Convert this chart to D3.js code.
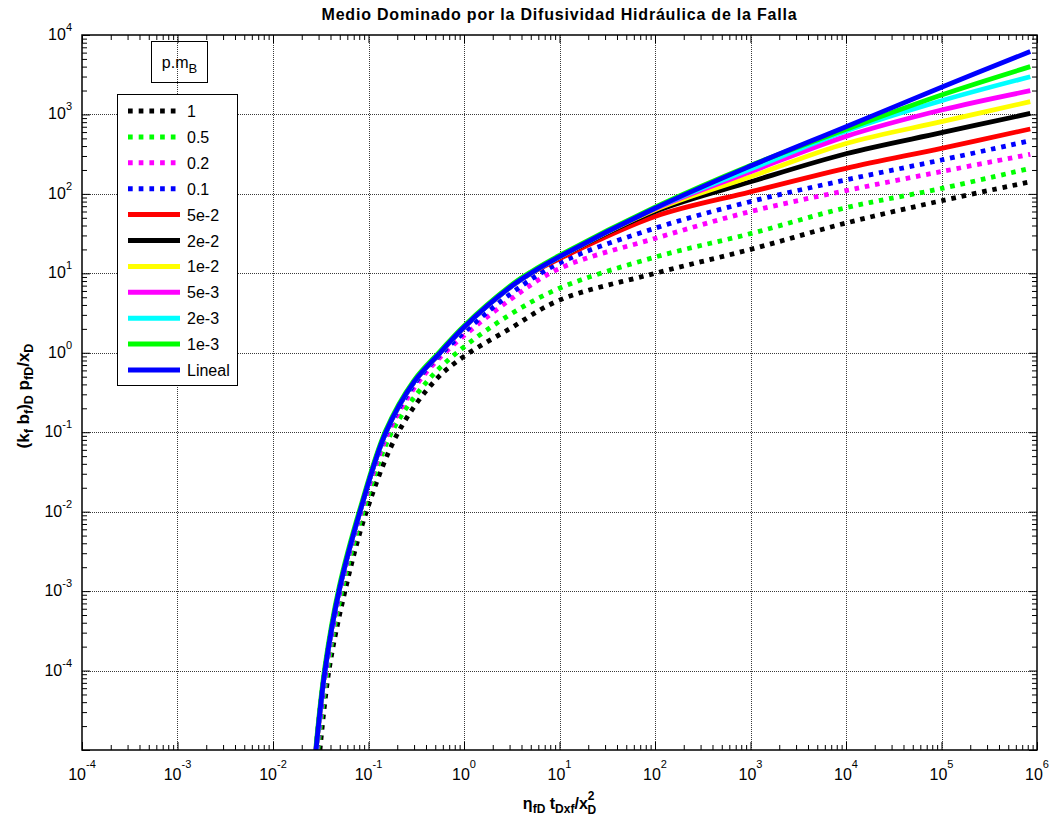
<!DOCTYPE html>
<html><head><meta charset="utf-8">
<script src="https://cdn.jsdelivr.net/npm/d3@7"></script>
<style>
body{margin:0;background:#fff}
svg{display:block;font-family:"Liberation Sans",Arial,Helvetica,sans-serif}
</style>
</head><body>
<svg id="chart" width="1053" height="820"></svg>
<script>
// ---------- data ----------
const xExponents = [-4,-3,-2,-1,0,1,2,3,4,5,6];
const yExponents = [-4,-3,-2,-1,0,1,2,3,4];

// dotted series: own early arrival times
const t_1   = [0.031,0.0385,0.0567,0.095,0.205,0.5,1.0,3,10,100,1e3,1e4,1e5,8.5e5];
const p_1   = [1e-5,1e-4,1e-3,1e-2,0.1,0.45,0.9,2.0,4.6,10,20,43,82,142];
const t_05  = [0.0295,0.037,0.0525,0.088,0.175,0.4,0.84,3,10,100,1e3,1e4,1e5,8.5e5];
const p_05  = [1e-5,1e-4,1e-3,1e-2,0.1,0.42,1,3.0,6.5,16,31.6,67,117,210];
const t_02  = [0.0288,0.036,0.0505,0.084,0.162,0.32,0.63,3,10,100,1e3,1e4,1e5,8.5e5];
const p_02  = [1e-5,1e-4,1e-3,1e-2,0.1,0.4,1,4.6,11.5,27.5,60,110,191,315];
const t_01  = [0.0285,0.0355,0.0497,0.0825,0.155,0.31,0.59,3,10,100,1e3,1e4,1e5,8.5e5];
const p_01  = [1e-5,1e-4,1e-3,1e-2,0.1,0.42,1,5.4,13.5,37,80,150,267,468];

// solid series share the early branch
const tSolid = [0.0282,0.035,0.0491,0.0814,0.152,0.3,0.561,1,3,5,10,100,1e3,1e4,1e5,8.5e5];
const p_5e2  = [1e-5,1e-4,1e-3,1e-2,0.1,0.43,1,2.1,6.6,10,15.3,52,106,210,375,656];
const p_2e2  = [1e-5,1e-4,1e-3,1e-2,0.1,0.43,1,2.1,6.6,10,16,60,142,320,589,1030];
const p_1e2  = [1e-5,1e-4,1e-3,1e-2,0.1,0.43,1,2.1,6.6,10,16.1,63,164,430,811,1450];
const p_5e3  = [1e-5,1e-4,1e-3,1e-2,0.1,0.43,1,2.1,6.6,10,16.2,65,190,530,1137,1990];
const p_2e3  = [1e-5,1e-4,1e-3,1e-2,0.1,0.43,1,2.1,6.6,10,16.2,66,205,620,1490,2985];
const p_1e3  = [1.1e-5,1.12e-4,1.1e-3,1.08e-2,0.106,0.45,1.04,2.18,6.85,10.4,16.8,68,228,650,1760,4000];
const p_lin  = [1e-5,1e-4,1e-3,1e-2,0.1,0.43,1,2.1,6.6,10,16.2,66,224,700,2200,6200];

const seriesNames  = ["1","0.5","0.2","0.1","5e-2","2e-2","1e-2","5e-3","2e-3","1e-3","Lineal"];
const seriesColors = ["#000000","#00ff00","#ff00ff","#0000ff","#ff0000","#000000","#ffff00","#ff00ff","#00ffff","#00ff00","#0000ff"];
const seriesDotted = [true,true,true,true,false,false,false,false,false,false,false];
const seriesT = [t_1,t_05,t_02,t_01,tSolid,tSolid,tSolid,tSolid,tSolid,tSolid,tSolid];
const seriesP = [p_1,p_05,p_02,p_01,p_5e2,p_2e2,p_1e2,p_5e3,p_2e3,p_1e3,p_lin];

// ---------- layout ----------
const svg = d3.select("#chart");
const L = 82, R = 1037, T = 35, B = 750;
const x = d3.scaleLog().domain([1e-4,1e6]).range([L,R]);
const y = d3.scaleLog().domain([1e-5,1e4]).range([B,T]);

const majorX = xExponents.map(e => Math.pow(10,e));
const majorY = [-5].concat(yExponents).map(e => Math.pow(10,e));
function minors(lo, hi){
  const out=[];
  for(let e=lo;e<hi;e++) for(let k=2;k<=9;k++) out.push(k*Math.pow(10,e));
  return out;
}
const minorX = minors(-4,6), minorY = minors(-5,4);

// grid
const grid = svg.append("g").attr("stroke","#3a3a3a").attr("stroke-width",1).attr("stroke-dasharray","1,1").attr("shape-rendering","crispEdges");
grid.selectAll(".gx").data(majorX.slice(1,-1)).join("line")
  .attr("x1",d=>Math.round(x(d))+0.5).attr("x2",d=>Math.round(x(d))+0.5).attr("y1",T).attr("y2",B);
grid.selectAll(".gy").data(majorY.slice(1,-1)).join("line")
  .attr("y1",d=>Math.round(y(d))+0.5).attr("y2",d=>Math.round(y(d))+0.5).attr("x1",L).attr("x2",R);

// ticks on the four sides, pointing inwards
function tickAxis(axisFn, scale, vals, size, tr){
  const g = svg.append("g").attr("transform",tr)
    .call(axisFn(scale).tickValues(vals).tickSizeInner(-size).tickSizeOuter(0).tickFormat(""));
  g.select(".domain").remove();
  g.selectAll(".tick line").attr("stroke","#000").attr("stroke-width",1);
}
tickAxis(d3.axisBottom, x, majorX, 8, `translate(0,${B})`);
tickAxis(d3.axisBottom, x, minorX, 5, `translate(0,${B})`);
tickAxis(d3.axisTop, x, majorX, 8, `translate(0,${T})`);
tickAxis(d3.axisTop, x, minorX, 5, `translate(0,${T})`);
tickAxis(d3.axisLeft, y, majorY, 8, `translate(${L},0)`);
tickAxis(d3.axisLeft, y, minorY, 5, `translate(${L},0)`);
tickAxis(d3.axisRight, y, majorY, 8, `translate(${R},0)`);
tickAxis(d3.axisRight, y, minorY, 5, `translate(${R},0)`);

// curves
svg.append("clipPath").attr("id","plotclip").append("rect")
  .attr("x",L).attr("y",T).attr("width",R-L).attr("height",B-T);
const line = d3.line().curve(d3.curveCatmullRom.alpha(0.5));
const curves = svg.append("g").attr("clip-path","url(#plotclip)").attr("fill","none");
seriesNames.forEach((name,i)=>{
  const pts = seriesT[i].map((t,j)=>[x(t), y(seriesP[i][j])]);
  curves.append("path").attr("d", line(pts))
    .attr("stroke", seriesColors[i])
    .attr("stroke-width", 4.8)
    .attr("stroke-linejoin","round")
    .attr("stroke-linecap","butt")
    .attr("stroke-dasharray", seriesDotted[i] ? "4.6,5.8" : null);
});

// frame
svg.append("rect").attr("x",L).attr("y",T).attr("width",R-L).attr("height",B-T)
  .attr("fill","none").attr("stroke","#000").attr("stroke-width",1.5);

// tick labels
const xl = svg.append("g").attr("font-size",16).attr("fill","#000");
xExponents.forEach(e=>{
  const t = xl.append("text").attr("x",x(Math.pow(10,e))).attr("y",780).attr("text-anchor","middle");
  t.append("tspan").text("10");
  t.append("tspan").attr("font-size",11).attr("dy",-12).text(e);
});
const yl = svg.append("g").attr("font-size",16).attr("fill","#000");
yExponents.forEach(e=>{
  const t = yl.append("text").attr("x",72).attr("y",y(Math.pow(10,e))+5).attr("text-anchor","end");
  t.append("tspan").text("10");
  t.append("tspan").attr("font-size",11).attr("dy",-9).text(e);
});

// title
svg.append("text").attr("x",(L+R)/2).attr("y",20).attr("text-anchor","middle")
  .attr("font-size",16).attr("letter-spacing",0.8).attr("font-weight","bold")
  .text("Medio Dominado por la Difusividad Hidráulica de la Falla");

// x label: η_fD t_Dxf / x_D^2
const xt = svg.append("text").attr("x",(L+R)/2).attr("y",809).attr("text-anchor","middle")
  .attr("font-size",16).attr("font-weight","bold");
xt.append("tspan").text("η");
xt.append("tspan").attr("font-size",12).attr("dy",4).text("fD");
xt.append("tspan").attr("dy",-4).text(" t");
xt.append("tspan").attr("font-size",12).attr("dy",4).text("Dxf");
xt.append("tspan").attr("dy",-4).text("/x");
xt.append("tspan").attr("font-size",12).attr("dy",-9).text("2");
xt.append("tspan").attr("font-size",12).attr("dx",-7).attr("dy",14).text("D");

// y label: (k_f b_f)_D p_fD / x_D
const yt = svg.append("text").attr("transform","translate(29,396) rotate(-90)").attr("text-anchor","middle")
  .attr("font-size",17).attr("font-weight","bold");
yt.append("tspan").text("(k");
yt.append("tspan").attr("font-size",12.5).attr("dy",4).text("f");
yt.append("tspan").attr("dy",-4).text(" b");
yt.append("tspan").attr("font-size",12.5).attr("dy",4).text("f");
yt.append("tspan").attr("dy",-4).text(")");
yt.append("tspan").attr("font-size",12.5).attr("dy",4).text("D");
yt.append("tspan").attr("dy",-4).text(" p");
yt.append("tspan").attr("font-size",12.5).attr("dy",4).text("fD");
yt.append("tspan").attr("dy",-4).text("/x");
yt.append("tspan").attr("font-size",12.5).attr("dy",4).text("D");

// parameter caption box
svg.append("rect").attr("x",151.5).attr("y",41.5).attr("width",56).attr("height",41)
  .attr("fill","none").attr("stroke","#000").attr("stroke-width",1);
const cap = svg.append("text").attr("x",179.5).attr("y",68).attr("text-anchor","middle").attr("font-size",16);
cap.append("tspan").text("p.m");
cap.append("tspan").attr("font-size",13).attr("dy",5).text("B");

// legend
const lg = svg.append("g");
lg.append("rect").attr("x",117.5).attr("y",94.5).attr("width",120).attr("height",291)
  .attr("fill","#fff").attr("stroke","#000").attr("stroke-width",1);
seriesNames.forEach((name,i)=>{
  const cy = 111 + i*25.9;
  lg.append("line").attr("x1",128).attr("x2",180).attr("y1",cy).attr("y2",cy)
    .attr("stroke",seriesColors[i]).attr("stroke-width",5)
    .attr("stroke-dasharray", seriesDotted[i] ? "4.7,6" : null);
  lg.append("text").attr("x",187).attr("y",cy+6).attr("font-size",16).text(name);
});
</script>
</body></html>
